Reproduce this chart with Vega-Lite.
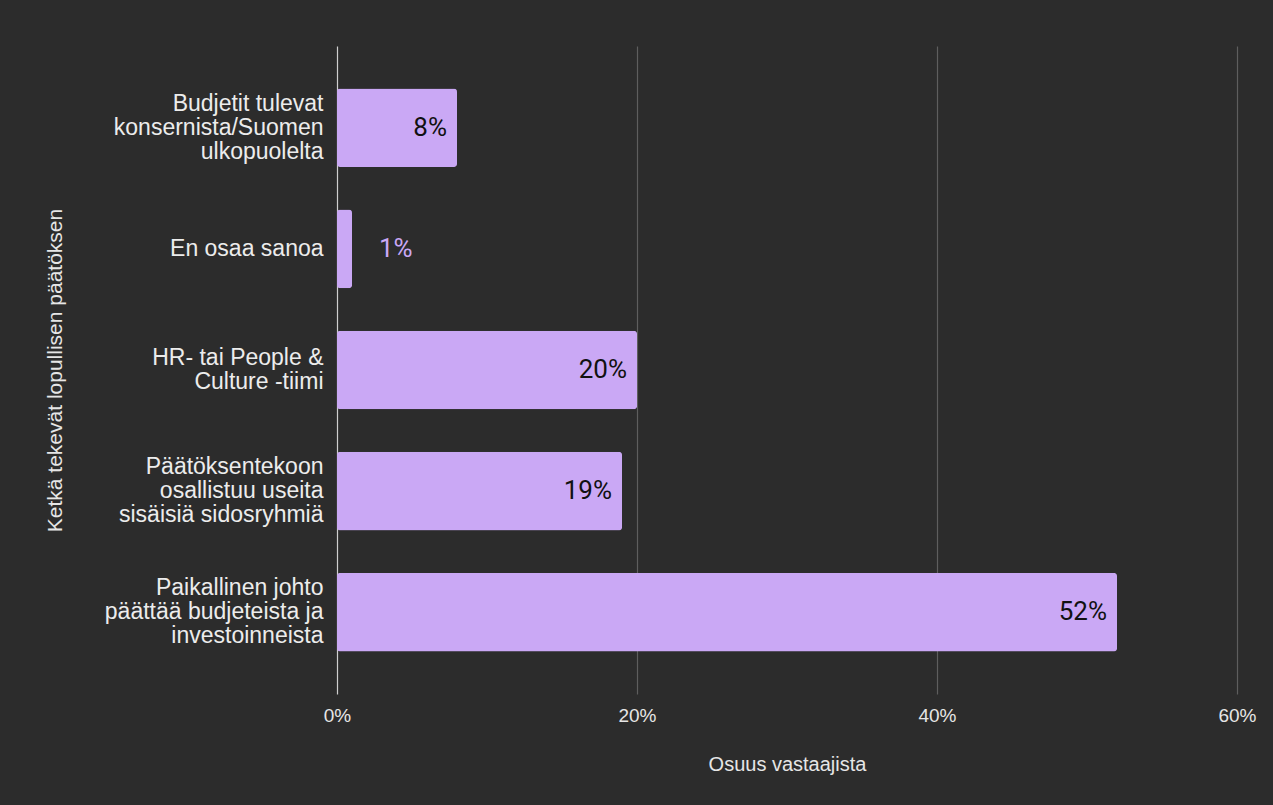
{
  "$schema": "https://vega.github.io/schema/vega-lite/v6.json",
  "autosize": {"type": "none"},
  "width": 900,
  "height": 648,
  "padding": {"left": 337, "top": 46, "right": 36, "bottom": 111},
  "background": "#2c2c2c",
  "data": {
    "values": [
      {"category": "Budjetit tulevat|konsernista/Suomen|ulkopuolelta", "share": 8, "label": "8%", "inside": true},
      {"category": "En osaa sanoa", "share": 1, "label": "1%", "inside": false},
      {"category": "HR- tai People &|Culture -tiimi", "share": 20, "label": "20%", "inside": true},
      {"category": "Päätöksentekoon|osallistuu useita|sisäisiä sidosryhmiä", "share": 19, "label": "19%", "inside": true},
      {"category": "Paikallinen johto|päättää budjeteista ja|investoinneista", "share": 52, "label": "52%", "inside": true}
    ]
  },
  "encoding": {
    "y": {
      "field": "category",
      "type": "nominal",
      "sort": null,
      "scale": {"paddingInner": 0.35, "paddingOuter": 0.35},
      "axis": {
        "title": "Ketkä tekevät lopullisen päätöksen",
        "titleFont": "Liberation Sans",
        "titleFontSize": 21,
        "titleFontWeight": "normal",
        "titleColor": "#e6e6e6",
        "titleX": -282,
        "titleBaseline": "middle",
        "labelExpr": "split(datum.value, '|')",
        "labelFont": "Liberation Sans",
        "labelFontSize": 23,
        "labelLineHeight": 24,
        "labelColor": "#ececec",
        "labelPadding": 14,
        "labelLimit": 400,
        "labelOffset": {
          "condition": [
            {"test": "length(split(datum.value, '|')) === 3", "value": -24},
            {"test": "length(split(datum.value, '|')) === 2", "value": -12}
          ],
          "value": 0
        },
        "ticks": false,
        "domain": false,
        "grid": false
      }
    },
    "x": {
      "field": "share",
      "type": "quantitative",
      "scale": {"domain": [0, 60], "nice": false},
      "axis": {
        "title": "Osuus vastaajista",
        "titleFont": "Liberation Sans",
        "titleFontSize": 20,
        "titleFontWeight": "normal",
        "titleColor": "#e6e6e6",
        "titlePadding": 29,
        "values": [0, 20, 40, 60],
        "labelExpr": "datum.value + '%'",
        "labelFont": "Liberation Sans",
        "labelFontSize": 19,
        "labelColor": "#e6e6e6",
        "labelPadding": 12,
        "labelFlush": false,
        "ticks": false,
        "domain": false,
        "grid": true,
        "gridColor": {"condition": {"test": "datum.value === 0", "value": "#cfcfcf"}, "value": "#5e5e5e"},
        "gridWidth": 1.2
      }
    }
  },
  "layer": [
    {
      "mark": {"type": "bar", "color": "#caa8f5", "cornerRadius": 3}
    },
    {
      "transform": [{"filter": "datum.inside"}],
      "mark": {"type": "text", "align": "right", "baseline": "middle", "dx": -10, "font": "Roboto", "fontSize": 26, "color": "#111111"},
      "encoding": {"text": {"field": "label"}}
    },
    {
      "transform": [{"filter": "!datum.inside"}],
      "mark": {"type": "text", "align": "left", "baseline": "middle", "dx": 27, "font": "Roboto", "fontSize": 26, "color": "#caa8f5"},
      "encoding": {"text": {"field": "label"}}
    }
  ],
  "config": {"view": {"stroke": null}}
}
